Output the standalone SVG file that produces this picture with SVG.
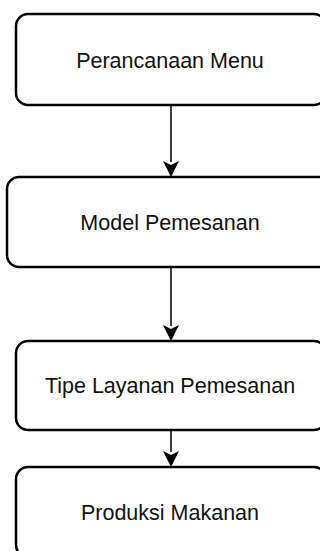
<svg xmlns="http://www.w3.org/2000/svg" width="320" height="551" viewBox="0 0 320 551">
<style>
.box{fill:#fff;stroke:#000;stroke-width:2.5}
.lbl{font-family:"Liberation Sans",Arial,sans-serif;font-size:21.5px;fill:#111;text-anchor:middle}
.conn{stroke:#000;stroke-width:1.5;fill:none}
</style>
<rect width="320" height="551" fill="#fff"/>
<g id="conns">
<path class="conn" d="M171,106 V162"/>
<path d="M171,177 L163,161 L171,165 L179,161 Z" fill="#000"/>
<path class="conn" d="M171,268 V326"/>
<path d="M171,341 L163,325 L171,329 L179,325 Z" fill="#000"/>
<path class="conn" d="M171,431 V452"/>
<path d="M171,467 L163,451 L171,455 L179,451 Z" fill="#000"/>
</g>
<g id="n1">
<rect class="box" x="16" y="14" width="310" height="91" rx="12"/>
<text class="lbl" x="170" y="68">Perancanaan Menu</text>
</g>
<g id="n2">
<rect class="box" x="7" y="177" width="328" height="90" rx="12"/>
<text class="lbl" x="170" y="230">Model Pemesanan</text>
</g>
<g id="n3">
<rect class="box" x="16" y="341" width="310" height="89" rx="12"/>
<text class="lbl" x="170" y="393">Tipe Layanan Pemesanan</text>
</g>
<g id="n4">
<rect class="box" x="16" y="467" width="310" height="90" rx="12"/>
<text class="lbl" x="170" y="520">Produksi Makanan</text>
</g>
</svg>
